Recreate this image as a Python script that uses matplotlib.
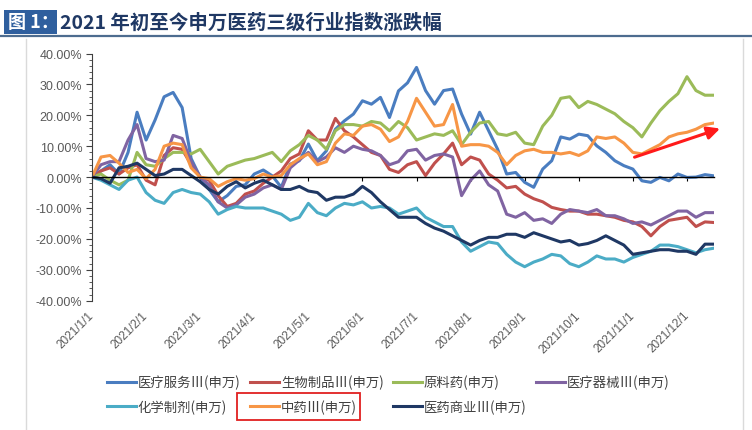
import matplotlib
matplotlib.use("Agg")
import matplotlib.pyplot as plt
import numpy as np
from matplotlib.lines import Line2D
from matplotlib.patches import Rectangle
from matplotlib.ticker import FuncFormatter, MultipleLocator

plt.rcParams["font.family"] = ["Liberation Sans", "Noto Sans CJK SC", "DejaVu Sans"]

# x axis: category labels, one every 6 samples
DATE_LABELS = ["2021/1/1", "2021/2/1", "2021/3/1", "2021/4/1", "2021/5/1", "2021/6/1",
               "2021/7/1", "2021/8/1", "2021/9/1", "2021/10/1", "2021/11/1", "2021/12/1"]
STEP = 6

# cumulative change (%)
FUWU = [0, 2, 4, 1, 8, 21, 12, 18.5, 26, 27.4, 22.5, 6, 0, -4, -8, -6, -3, -2.5, 1, 2.3,
        0.4, -3.3, 4.2, 5.3, 10.7, 5.3, 8.5, 15.5, 18.2, 20.4, 24.7, 23.6, 25.8, 19.3, 27.9,
        30.5, 35.5, 28, 23.6, 28, 28.5, 20.4, 13.9, 21, 15, 9, 1, 1.5, -1.7, -3.3,
        2.6, 5.3, 13, 12.3, 13.9, 13.4, 10.1, 8, 5.3, 3.7, 2.6, -1.2, -1.7, -0.1, -1.2,
        1, -0.1, 0, 0.8, 0.4]
SHENGWU = [0, 2, 3, 1, 3, 4, -1, -2.5, 7, 9.5, 9, 4, 0, -1, -6, -9.5, -8.5, -5.5, -4.5, -2,
           0, 2, 6, 7.5, 15, 12, 12, 19, 15, 13, 10.5, 8, 7, 2.5, 1.5,
           4, 5, 0.5, 4.5, 7.5, 11, 4, 6.5, 5.5, 1, -1, -3.5, -3, -5.5, -7,
           -8, -9.8, -10.5, -11, -11, -12, -12, -12.5, -13, -14, -14.5, -16, -19, -16, -14,
           -13.5, -13, -16, -14.5, -14.7]
YUANLIAO = [0, 1, -1, -2.5, -1, 8, 4, 3.5, 6, 8, 8, 7.5, 9, 5, 1, 3.5, 4.5, 5.5, 6, 7,
            8, 5, 8.5, 10.5, 13.5, 12, 9, 15, 17, 17, 16.5, 18, 17.5, 15, 18,
            16, 12, 13, 14, 13.5, 15, 10.5, 14.5, 17.5, 18, 14, 13.5, 14.5, 11, 10.5,
            16.5, 20, 25.5, 26, 22.5, 24.5, 23.5, 22, 20.5, 18, 16, 13, 17.5, 21.5, 24.5,
            27, 32.5, 28, 26.5, 26.5]
QIXIE = [0, 4, 5, 5, 12, 17, 6, 5, 5.5, 13.5, 12.5, 5, 0, -2.5, -8, -10, -9, -6.5, -5.5, -3.5,
         -2.5, -4, 3, 5.5, 8, 5, 6.5, 9.5, 8, 10, 9, 8.5, 7, 4, 5,
         8.5, 9, 5.5, 7, 7.5, 6.5, -6, -1, 2, -2.5, -4.5, -12, -13, -11.5, -14,
         -13.5, -15, -12, -10.5, -11, -11.5, -10.5, -12.5, -12.5, -13.5, -15, -14.5, -15.5, -14, -12.5,
         -11, -11, -13, -11.5, -11.5]
HUAXUE = [0, -1, -2.5, -4, -1, 0, -5, -7.5, -8.5, -5, -4, -5, -5.5, -8, -12, -10.5, -9.5, -10, -10, -10,
          -11, -12, -14, -13, -8.5, -11.5, -12.5, -10, -8.5, -9, -8, -10, -9.5, -10, -12,
          -11, -10, -13, -14.5, -16, -16, -21, -24, -22.5, -21, -21.5, -25, -27.5, -29, -27.5,
          -26.5, -25, -25.5, -28, -29, -27.5, -25.5, -26.5, -26.5, -27.5, -26, -25, -24, -22, -22,
          -22.5, -23.5, -24.5, -23.5, -23]
ZHONGYAO = [0, 6.5, 7, 4.5, 1.5, 2.5, -0.5, 2.5, 10, 11, 10.5, 3, 0, -0.5, -3, -1.5, -0.5, -1, -0.5, 1,
            0, 0.5, 4, 6, 7.5, 4, 5, 11, 14, 13.5, 16.5, 17, 15.5, 11.5, 13,
            18, 25.5, 21, 16.5, 17, 23.5, 10, 10.5, 10.5, 10, 8, 4, 7, 8.5, 9,
            8, 8, 7.5, 8, 7, 8.5, 13, 12.5, 13, 11, 8, 7.5, 9, 10.5, 13,
            14, 14.5, 15.5, 17, 17.5]
SHANGYE = [0, -0.5, -2, 3, 3.5, 4.5, 2.5, 0.5, 1, 2.5, 2.5, 0.5, -1.5, -4, -5.5, -3, -1.5, -3.5, -2, -1,
           -2.5, -4, -4, -3, -4.5, -5, -7.5, -6.5, -6.5, -5.5, -3, -5, -8, -10.5, -13,
           -13, -13, -15, -16.5, -17.5, -19, -20.5, -22, -20.5, -19.5, -19.5, -18.5, -18.5, -19.5, -18,
           -19, -20, -21, -20.5, -22, -21.5, -20.5, -19, -20.5, -22, -25, -24.5, -24, -23.5, -23.5,
           -24, -24, -25, -21.7, -21.7]

SERIES = [
    ("医疗服务Ⅲ(申万)", FUWU, "#4A7DC0"),
    ("生物制品Ⅲ(申万)", SHENGWU, "#C0504D"),
    ("原料药(申万)", YUANLIAO, "#9BBB59"),
    ("医疗器械Ⅲ(申万)", QIXIE, "#8064A2"),
    ("化学制剂(申万)", HUAXUE, "#4BACC6"),
    ("中药Ⅲ(申万)", ZHONGYAO, "#F79646"),
    ("医药商业Ⅲ(申万)", SHANGYE, "#1F3864"),
]

W, H = 752, 431
fig = plt.figure(figsize=(W / 100, H / 100), dpi=100)

# title bar
fig.patches.append(Rectangle((4 / W, 1 - 35 / H), 53 / W, 24 / H, transform=fig.transFigure,
                             facecolor="#2F5F9E", edgecolor="none"))
fig.text(8 / W, 1 - 23 / H, "图 1：", color="white", fontsize=13, fontweight="bold",
         family=["Noto Sans CJK SC"], va="center", ha="left")
fig.text(60 / W, 1 - 23 / H, "2021 年初至今申万医药三级行业指数涨跌幅", color="#1F3864",
         fontsize=14, fontweight="bold", family=["Noto Sans CJK SC"], va="center", ha="left")
fig.lines.append(Line2D([0, 1], [1 - 37 / H, 1 - 37 / H], transform=fig.transFigure,
                        color="#4D6C8F", lw=1.6))
fig.lines.append(Line2D([26 / W, 26 / W], [0, 1 - 40 / H], transform=fig.transFigure,
                        color="#DADADA", lw=1))
fig.lines.append(Line2D([743 / W, 743 / W], [0, 1 - 40 / H], transform=fig.transFigure,
                        color="#DADADA", lw=1))

ax = fig.add_axes([92 / W, 1 - 301.7 / H, (714 - 92) / W, (301.7 - 54.5) / H])
x = np.arange(len(FUWU))
handles = {}
for name, vals, color in SERIES:
    (ln,) = ax.plot(x, vals, color=color, lw=2.2, solid_joinstyle="round", label=name)
    handles[name] = ln

ax.set_xlim(0, len(FUWU) - 1)
ax.set_ylim(-40, 40)
ax.yaxis.set_major_locator(MultipleLocator(10))
ax.yaxis.set_minor_locator(MultipleLocator(2))
ax.yaxis.set_major_formatter(FuncFormatter(lambda v, _: f"{v:.2f}%"))
ax.tick_params(axis="y", which="major", length=4, color="#404040", labelsize=9,
               labelcolor="#595959", pad=3)
ax.tick_params(axis="y", which="minor", length=2.5, color="#404040")
ax.spines["left"].set_color("#404040")
ax.spines["top"].set_visible(False)
ax.spines["right"].set_visible(False)
ax.spines["bottom"].set_position(("data", 0))
ax.spines["bottom"].set_color("black")
ax.spines["bottom"].set_linewidth(1.0)
ticks = np.arange(len(DATE_LABELS)) * STEP
ax.set_xticks(ticks)
ax.tick_params(axis="x", length=3, color="black", labelbottom=False)

sec = ax.secondary_xaxis("bottom")
sec.set_xticks(ticks, labels=DATE_LABELS)
sec.spines["bottom"].set_visible(False)
sec.tick_params(length=0, pad=9, labelsize=8.5, labelcolor="#595959")
for lab in sec.get_xticklabels():
    lab.set_rotation(45)
    lab.set_ha("right")
    lab.set_va("center")
    lab.set_rotation_mode("anchor")

# arrow pointing at 中药 line
ax.annotate("", xy=(1.014, 0.70), xytext=(0.868, 0.577), xycoords="axes fraction",
            textcoords="axes fraction", annotation_clip=False,
            arrowprops=dict(arrowstyle="-|>", color="#FF1A1A", lw=2.2, mutation_scale=19))

# legend: matplotlib fills columns first
order = ["医疗服务Ⅲ(申万)", "化学制剂(申万)", "生物制品Ⅲ(申万)", "中药Ⅲ(申万)",
         "原料药(申万)", "医药商业Ⅲ(申万)", "医疗器械Ⅲ(申万)"]
leg = fig.legend([handles[n] for n in order], order, loc="upper left",
                 bbox_to_anchor=(107 / W, 1 - 376 / H), ncol=4, frameon=False,
                 borderpad=0, borderaxespad=0, handlelength=2.2, handletextpad=0.12,
                 columnspacing=0.7, labelspacing=0.75,
                 prop={"family": ["Noto Sans CJK SC"], "size": 9.6})
for t in leg.get_texts():
    t.set_color("#404040")

fig.canvas.draw()
r = fig.canvas.get_renderer()
for t in leg.get_texts():
    if t.get_text() == "中药Ⅲ(申万)":
        bb = t.get_window_extent(r)
        cy = (bb.y0 + bb.y1) / 2
        x0, x1 = bb.x0 - 44, bb.x1 + 3
        fig.patches.append(Rectangle((x0 / W, (cy - 13.5) / H), (x1 - x0) / W, 27 / H,
                                     transform=fig.transFigure, fill=False,
                                     edgecolor="#E02020", lw=1.3))

fig.savefig("out.png", dpi=100)
